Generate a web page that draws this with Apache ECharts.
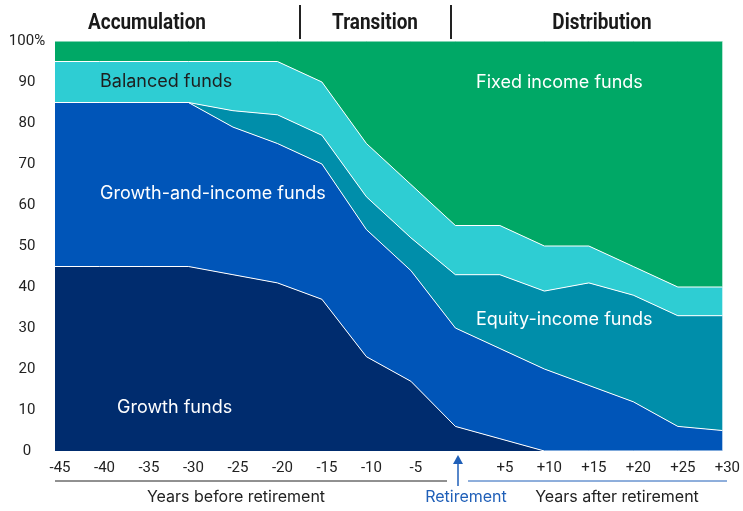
<!DOCTYPE html>
<html>
<head>
<meta charset="utf-8">
<script src="https://cdn.jsdelivr.net/npm/echarts@6/dist/echarts.min.js"></script>
<style>
  html, body { margin: 0; padding: 0; background: #fff; }
  #chart { width: 743px; height: 511px; }
</style>
</head>
<body>
<div id="chart"></div>
<script>
// years relative to retirement
var years = ['-45', '-40', '-35', '-30', '-25', '-20', '-15', '-10', '-5', '', '+5', '+10', '+15', '+20', '+25', '+30'];

// share of each fund type (%)
var growth       = [45, 45, 45, 45, 43, 41, 37, 23, 17,  6,  3,  0,  0,  0,  0,  0];
var growthIncome = [40, 40, 40, 40, 36, 34, 33, 31, 27, 24, 22, 20, 16, 12,  6,  5];
var equityIncome = [ 0,  0,  0,  0,  4,  7,  7,  8,  8, 13, 18, 19, 25, 26, 27, 28];
var balanced     = [10, 10, 10, 10, 12, 13, 13, 13, 13, 12, 12, 11,  9,  7,  7,  7];
var fixedIncome  = [ 5,  5,  5,  5,  5,  5, 10, 25, 35, 45, 45, 50, 50, 55, 60, 60];

var phases = ['Accumulation', 'Transition', 'Distribution'];

var font = 'Roboto, "Noto Sans", sans-serif';
var textFont = 'Inter, Roboto, sans-serif';

function layer(name, vals, color) {
    return {
        name: name,
        type: 'line',
        stack: 'all',
        data: vals,
        symbol: 'none',
        lineStyle: { color: '#ffffff', width: 1 },
        areaStyle: { color: color, opacity: 1 }
    };
}

// condensed-looking bold header, squeezed horizontally
function header(text, cx) {
    return {
        type: 'text', x: cx, y: 12, scaleX: 0.86, z: 10,
        style: { text: text, font: 'bold 22px ' + font, fill: '#1a1a1a', textAlign: 'center', textVerticalAlign: 'top' }
    };
}

function areaLabel(text, left, top, color) {
    return {
        type: 'text', x: left, y: top, z: 10,
        style: { text: text, font: '18px ' + textFont, fill: color, textVerticalAlign: 'middle' }
    };
}

function footText(text, cx, color) {
    return {
        type: 'text', x: cx, y: 497, z: 10,
        style: { text: text, font: '16px ' + textFont, fill: color, textAlign: 'center', textVerticalAlign: 'middle' }
    };
}

var chart = echarts.init(document.getElementById('chart'), null, { renderer: 'canvas' });

var option = {
    animation: false,
    grid: { left: 55, right: 17, top: 41, bottom: 60 },
    xAxis: {
        type: 'category',
        data: years,
        boundaryGap: false,
        axisLine: { show: false },
        axisTick: { show: false },
        splitLine: { show: false },
        axisLabel: {
            color: '#222',
            fontFamily: font,
            fontSize: 15,
            margin: 10,
            padding: [0, 0, 0, 10],
            interval: 0
        }
    },
    yAxis: {
        type: 'value',
        min: 0,
        max: 100,
        interval: 10,
        axisLine: { show: false },
        axisTick: { show: false },
        splitLine: { show: false },
        axisLabel: {
            color: '#222',
            fontFamily: font,
            fontSize: 15,
            margin: 28,
            align: 'center',
            formatter: function (v) {
                return v === 100 ? '100%' : '' + v;
            }
        }
    },
    series: [
        layer('Growth funds', growth, '#002c6e'),
        layer('Growth-and-income funds', growthIncome, '#0055b8'),
        layer('Equity-income funds', equityIncome, '#008eaa'),
        layer('Balanced funds', balanced, '#2ecdd3'),
        layer('Fixed income funds', fixedIncome, '#00a866')
    ],
    graphic: [
        // phase headers
        header(phases[0], 147),
        header(phases[1], 375),
        header(phases[2], 602),
        { type: 'line', z: 10, shape: { x1: 300, y1: 5, x2: 300, y2: 39 }, style: { stroke: '#222', lineWidth: 2 } },
        { type: 'line', z: 10, shape: { x1: 451, y1: 5, x2: 451, y2: 39 }, style: { stroke: '#222', lineWidth: 2 } },

        // area labels
        areaLabel('Balanced funds', 100, 82, '#1e1e1e'),
        areaLabel('Growth-and-income funds', 100, 194, '#ffffff'),
        areaLabel('Growth funds', 117, 408, '#ffffff'),
        areaLabel('Fixed income funds', 476, 83, '#ffffff'),
        areaLabel('Equity-income funds', 476, 320, '#ffffff'),

        // bottom annotations
        { type: 'line', z: 10, shape: { x1: 55, y1: 481, x2: 447, y2: 481 }, style: { stroke: '#222', lineWidth: 1 } },
        { type: 'line', z: 10, shape: { x1: 468, y1: 481, x2: 727, y2: 481 }, style: { stroke: '#1f5fb8', lineWidth: 1 } },
        footText('Years before retirement', 236, '#222'),
        footText('Retirement', 466, '#1f5fb8'),
        footText('Years after retirement', 617, '#222'),
        { type: 'line', z: 10, shape: { x1: 458, y1: 462, x2: 458, y2: 486 }, style: { stroke: '#1f5fb8', lineWidth: 1.5 } },
        { type: 'polygon', z: 10, shape: { points: [[453, 464], [463, 464], [458, 455]] }, style: { fill: '#1f5fb8' } }
    ]
};

chart.setOption(option);
</script>
</body>
</html>
